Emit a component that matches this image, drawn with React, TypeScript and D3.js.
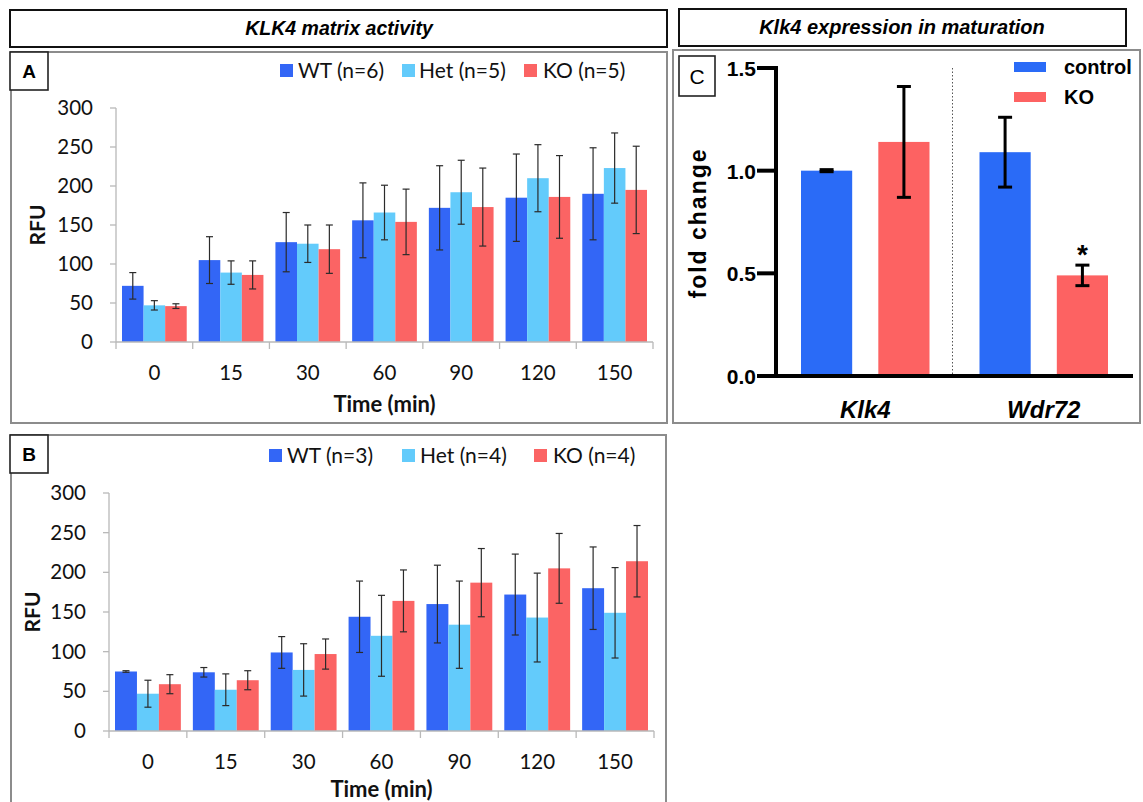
import React from "react";
import * as d3 from "d3";

// ---------- data ----------
const timeLabels = ["0", "15", "30", "60", "90", "120", "150"];
const seriesNames = ["WT", "Het", "KO"];

const aWT = [72, 105, 128, 156, 172, 185, 190];
const aWTErr = [17, 30, 38, 48, 54, 56, 59];
const aHet = [47, 89, 126, 166, 192, 210, 223];
const aHetErr = [6, 15, 24, 35, 41, 43, 45];
const aKO = [46, 86, 119, 154, 173, 186, 195];
const aKOErr = [3, 18, 31, 42, 50, 53, 56];
const aLegend = ["WT (n=6)", "Het (n=5)", "KO (n=5)"];

const bWT = [75, 74, 99, 144, 160, 172, 180];
const bWTErr = [1, 6, 20, 45, 49, 51, 52];
const bHet = [47, 52, 77, 120, 134, 143, 149];
const bHetErr = [17, 20, 33, 51, 55, 56, 57];
const bKO = [59, 64, 97, 164, 187, 205, 214];
const bKOErr = [12, 12, 19, 39, 43, 44, 45];
const bLegend = ["WT (n=3)", "Het (n=4)", "KO (n=4)"];

const rfuTicks = [0, 50, 100, 150, 200, 250, 300];

const cGenes = ["Klk4", "Wdr72"];
const cGroups = ["control", "KO"];
const cControl = [1.0, 1.09];
const cControlErr = [0.005, 0.17];
const cKO = [1.14, 0.49];
const cKOErr = [0.27, 0.05];
const cTicks = [0, 0.5, 1.0, 1.5];

// ---------- styles ----------
const COLORS = ["#3366f6", "#63cbfb", "#fb6464"];
const C_COLORS = ["#2a6bf7", "#fd6262"];
const CAL = "Lato, 'Open Sans', sans-serif";
const ARIAL = "'Liberation Sans', Arial, sans-serif";

type PanelProps = {
  label: string;
  frame: { x: number; y: number; w: number; h: number };
  labelBox: { x: number; y: number; w: number; h: number };
  x0: number;
  x1: number;
  yTop: number;
  yBottom: number;
  values: number[][];
  errors: number[][];
  legend: string[];
  legendSw: number[];
  legendTx: number[];
  legendY: number;
  tickBaseline: number;
  titleBaseline: number;
  rfuX: number;
  rfuY: number;
};

function RfuPanel(p: PanelProps) {
  const xb = d3.scaleBand<string>().domain(timeLabels).range([p.x0, p.x1]).padding(0);
  const step = xb.step();
  const xi = d3.scaleBand<string>().domain(seriesNames).range([6, step - 6]).padding(0);
  const y = d3.scaleLinear().domain([0, 300]).range([p.yBottom, p.yTop]);
  const axisCol = "#b9b9b9";
  const cap = 3.5;
  return (
    <g>
      <rect x={p.frame.x} y={p.frame.y} width={p.frame.w} height={p.frame.h} fill="white" stroke="#8c8c8c" strokeWidth={2} />
      <rect x={p.labelBox.x} y={p.labelBox.y} width={p.labelBox.w} height={p.labelBox.h} fill="white" stroke="#222" strokeWidth={1.6} />
      <text x={p.labelBox.x + p.labelBox.w / 2} y={p.labelBox.y + p.labelBox.h / 2 + 7} textAnchor="middle" fontFamily={ARIAL} fontWeight="bold" fontSize={19}>
        {p.label}
      </text>
      {/* legend */}
      {p.legend.map((t, i) => (
        <g key={t}>
          <rect x={p.legendSw[i]} y={p.legendY - 13} width={13} height={13} fill={COLORS[i]} />
          <text x={p.legendTx[i]} y={p.legendY + 1} fontFamily={CAL} fontSize={21} fill="#111">
            {t}
          </text>
        </g>
      ))}
      {/* y axis */}
      <line x1={p.x0} x2={p.x0} y1={y(300)} y2={y(0)} stroke={axisCol} strokeWidth={1.3} />
      {rfuTicks.map((t) => (
        <g key={t}>
          <line x1={p.x0 - 6} x2={p.x0} y1={y(t)} y2={y(t)} stroke={axisCol} strokeWidth={1.3} />
          <text x={p.x0 - 23} y={y(t) + 7} textAnchor="end" fontFamily={CAL} fontSize={20.5} fill="#111">
            {t}
          </text>
        </g>
      ))}
      {/* bars */}
      {timeLabels.map((t, ti) => (
        <g key={t}>
          {seriesNames.map((s, si) => {
            const v = p.values[si][ti];
            const e = p.errors[si][ti];
            const bx = (xb(t) as number) + (xi(s) as number);
            const bw = xi.bandwidth();
            const cx = bx + bw / 2;
            return (
              <g key={s}>
                <rect x={bx} y={y(v)} width={bw} height={y(0) - y(v)} fill={COLORS[si]} />
                <line x1={cx} x2={cx} y1={y(v + e)} y2={y(Math.max(0, v - e))} stroke="#2b2b2b" strokeWidth={1.2} />
                <line x1={cx - cap} x2={cx + cap} y1={y(v + e)} y2={y(v + e)} stroke="#2b2b2b" strokeWidth={1.2} />
                <line x1={cx - cap} x2={cx + cap} y1={y(Math.max(0, v - e))} y2={y(Math.max(0, v - e))} stroke="#2b2b2b" strokeWidth={1.2} />
              </g>
            );
          })}
        </g>
      ))}
      {/* x axis */}
      <line x1={p.x0} x2={p.x1} y1={y(0)} y2={y(0)} stroke={axisCol} strokeWidth={1.3} />
      {[...timeLabels.map((t) => xb(t) as number), p.x1].map((bx, i) => (
        <line key={i} x1={bx} x2={bx} y1={y(0)} y2={y(0) + 7} stroke={axisCol} strokeWidth={1.3} />
      ))}
      {timeLabels.map((t) => (
        <text key={t} x={(xb(t) as number) + step / 2} y={p.tickBaseline} textAnchor="middle" fontFamily={CAL} fontSize={20.5} fill="#111">
          {t}
        </text>
      ))}
      <text x={(p.x0 + p.x1) / 2} y={p.titleBaseline} textAnchor="middle" fontFamily={CAL} fontWeight="bold" fontSize={22} fill="#111">
        Time (min)
      </text>
      <text transform={`translate(${p.rfuX},${p.rfuY}) rotate(-90)`} textAnchor="middle" fontFamily={CAL} fontWeight="bold" fontSize={21} fill="#111">
        RFU
      </text>
    </g>
  );
}

function PanelC() {
  const axX = 776;
  const xEnd = 1133;
  const x0 = d3.scaleBand<string>().domain(cGenes).range([axX, xEnd]).padding(0);
  const step = x0.step();
  const xi = d3.scaleBand<string>().domain(cGroups).range([25, step - 25]).paddingInner(0.338).paddingOuter(0);
  const y = d3.scaleLinear().domain([0, 1.5]).range([376, 68]);
  const vals = [cControl, cKO];
  const errs = [cControlErr, cKOErr];
  return (
    <g>
      <rect x={673} y={50} width={467} height={373} fill="white" stroke="#8c8c8c" strokeWidth={2} />
      <rect x={679} y={56} width={36} height={40} fill="white" stroke="#222" strokeWidth={1.6} />
      <text x={697} y={84} textAnchor="middle" fontFamily={ARIAL} fontSize={21}>
        C
      </text>
      {/* divider */}
      <line x1={x0("Wdr72") as number - 2} x2={x0("Wdr72") as number - 2} y1={y(1.5)} y2={y(0)} stroke="#555" strokeWidth={1} strokeDasharray="1.5,2" />
      {/* bars */}
      {cGenes.map((g, gi) => (
        <g key={g}>
          {cGroups.map((s, si) => {
            const v = vals[si][gi];
            const e = errs[si][gi];
            const bx = (x0(g) as number) + (xi(s) as number);
            const bw = xi.bandwidth();
            const cx = bx + bw / 2;
            return (
              <g key={s}>
                <rect x={bx} y={y(v)} width={bw} height={y(0) - y(v)} fill={C_COLORS[si]} />
                <line x1={cx} x2={cx} y1={y(v + e)} y2={y(v - e)} stroke="#000" strokeWidth={3} />
                <line x1={cx - 7} x2={cx + 7} y1={y(v + e)} y2={y(v + e)} stroke="#000" strokeWidth={3} />
                <line x1={cx - 7} x2={cx + 7} y1={y(v - e)} y2={y(v - e)} stroke="#000" strokeWidth={3} />
              </g>
            );
          })}
          <text x={(x0(g) as number) + step / 2} y={418} textAnchor="middle" fontFamily={ARIAL} fontWeight="bold" fontStyle="italic" fontSize={24}>
            {g}
          </text>
        </g>
      ))}
      {/* asterisk above Wdr72 KO */}
      <text
        x={(x0("Wdr72") as number) + (xi("KO") as number) + xi.bandwidth() / 2}
        y={y(cKO[1] + cKOErr[1]) - 1}
        textAnchor="middle"
        fontFamily={ARIAL}
        fontWeight="bold"
        fontSize={28}
      >
        *
      </text>
      {/* axes */}
      <line x1={axX} x2={axX} y1={y(1.5) - 2} y2={y(0) + 2} stroke="#000" strokeWidth={4} />
      <line x1={axX - 2} x2={xEnd} y1={y(0)} y2={y(0)} stroke="#000" strokeWidth={4} />
      {cTicks.map((t) => (
        <g key={t}>
          <line x1={axX - 19} x2={axX} y1={y(t)} y2={y(t)} stroke="#000" strokeWidth={4} />
          <text x={756} y={y(t) + 8} textAnchor="end" fontFamily={ARIAL} fontWeight="bold" fontSize={21}>
            {d3.format(".1f")(t)}
          </text>
        </g>
      ))}
      <text transform="translate(706,223) rotate(-90)" textAnchor="middle" fontFamily={ARIAL} fontWeight="bold" fontSize={23} letterSpacing={2}>
        fold  change
      </text>
      {/* legend */}
      {cGroups.map((s, i) => (
        <g key={s}>
          <rect x={1014} y={62 + i * 30} width={32} height={10} fill={C_COLORS[i]} />
          <text x={1064} y={74 + i * 30} fontFamily={ARIAL} fontWeight="bold" fontSize={20}>
            {s}
          </text>
        </g>
      ))}
    </g>
  );
}

export default function App() {
  return (
    <svg width={1143} height={802} style={{ position: "absolute", left: 0, top: 0, background: "white" }}>
      <rect x={0} y={0} width={1143} height={802} fill="white" />
      {/* headers */}
      <rect x={10} y={10} width={657} height={37} fill="white" stroke="#111" strokeWidth={2} />
      <text x={339} y={35} textAnchor="middle" fontFamily={ARIAL} fontWeight="bold" fontStyle="italic" fontSize={19.5}>
        KLK4 matrix activity
      </text>
      <rect x={679} y={9} width={447} height={37} fill="white" stroke="#111" strokeWidth={2} />
      <text x={902} y={34} textAnchor="middle" fontFamily={ARIAL} fontWeight="bold" fontStyle="italic" fontSize={20}>
        Klk4 expression in maturation
      </text>

      <RfuPanel
        label="A"
        frame={{ x: 11, y: 52, w: 656, h: 371 }}
        labelBox={{ x: 10, y: 52, w: 38, h: 38 }}
        x0={116}
        x1={653}
        yTop={108}
        yBottom={342}
        values={[aWT, aHet, aKO]}
        errors={[aWTErr, aHetErr, aKOErr]}
        legend={aLegend}
        legendSw={[280, 402, 524]}
        legendTx={[298, 419, 543]}
        legendY={77}
        tickBaseline={380}
        titleBaseline={412}
        rfuX={45}
        rfuY={225}
      />
      <RfuPanel
        label="B"
        frame={{ x: 11, y: 435, w: 655, h: 380 }}
        labelBox={{ x: 10, y: 435, w: 38, h: 38 }}
        x0={109}
        x1={654}
        yTop={493}
        yBottom={731}
        values={[bWT, bHet, bKO]}
        errors={[bWTErr, bHetErr, bKOErr]}
        legend={bLegend}
        legendSw={[269, 402, 534]}
        legendTx={[287, 420, 553]}
        legendY={462}
        tickBaseline={769}
        titleBaseline={797}
        rfuX={40}
        rfuY={612}
      />
      <PanelC />
    </svg>
  );
}
